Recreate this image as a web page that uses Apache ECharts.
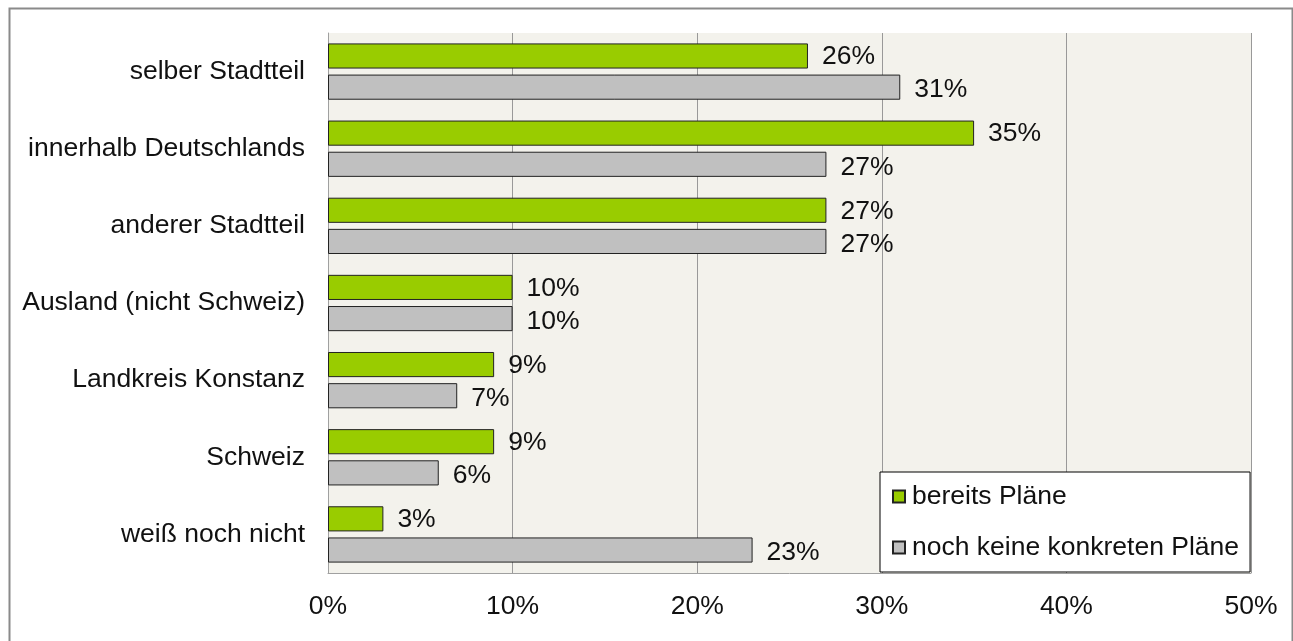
<!DOCTYPE html>
<html>
<head>
<meta charset="utf-8">
<script src="https://cdn.jsdelivr.net/npm/echarts@6/dist/echarts.min.js"></script>
<style>
html,body{margin:0;padding:0;background:#fff;}
#chart{width:1293px;height:641px;}
</style>
</head>
<body>
<div id="chart"></div>
<script>
const categories = ["selber Stadtteil","innerhalb Deutschlands","anderer Stadtteil","Ausland (nicht Schweiz)","Landkreis Konstanz","Schweiz","weiß noch nicht"];
const seriesNames = ["bereits Pläne","noch keine konkreten Pläne"];
const bereitsPlaene = [26,35,27,10,9,9,3];
const keinePlaene = [31,27,27,10,7,6,23];
const xTicks = [0,10,20,30,40,50];

const FONT = "'Liberation Sans', Arial, sans-serif";
const FS = 26.5;
const chart = echarts.init(document.getElementById('chart'));
const labelCfg = (dy) => ({
  show: true, position: 'right', distance: 14, offset:[0,dy],
  formatter: p => p.value + '%', fontSize: FS, fontFamily: FONT, color: '#111'
});
chart.setOption({
  backgroundColor: '#fff',
  animation: false,
  graphic: [{
    type: 'rect', left: 7, top: 6, z: 100, silent: true,
    shape: {width: 1283, height: 640},
    style: {fill: 'none', stroke: '#8a8a8a', lineWidth: 2}
  }],
  grid: {left: 328, right: 42, top: 33, bottom: 68, show: true, backgroundColor: '#F3F2EC', borderWidth: 0},
  legend: {
    orient: 'vertical', left: 880, top: 472, data: seriesNames,
    backgroundColor: '#fff', borderColor: '#000', borderWidth: 1,
    padding: [11, 11, 11, 12], itemGap: 24, itemWidth: 12, itemHeight: 12,
    icon: 'rect',
    textStyle: {fontSize: FS, fontFamily: FONT, color: '#111', padding: [0,0,0,2]},
    z: 10
  },
  xAxis: {
    type: 'value', min: xTicks[0], max: xTicks[xTicks.length-1], interval: 10,
    axisLabel: {formatter: v => v + '%', fontSize: FS, fontFamily: FONT, color: '#111', margin: 20},
    axisLine: {show: true, lineStyle: {color: '#a0a0a0', width: 1}},
    axisTick: {show: false},
    splitLine: {show: true, lineStyle: {color: '#999', width: 1}}
  },
  yAxis: {
    type: 'category', data: categories, inverse: true,
    axisLabel: {fontSize: FS, fontFamily: FONT, color: '#111', margin: 23},
    axisLine: {show: true, lineStyle: {color: '#a0a0a0', width: 1}},
    axisTick: {show: false}
  },
  series: [
    {name: seriesNames[0], type: 'bar', data: bereitsPlaene, barGap: '24%', barCategoryGap: '27%',
     itemStyle: {color: '#99CC00', borderColor: '#222', borderWidth: 1}, label: labelCfg(1)},
    {name: seriesNames[1], type: 'bar', data: keinePlaene,
     itemStyle: {color: '#C0C0C0', borderColor: '#222', borderWidth: 1}, label: labelCfg(3)}
  ]
});
</script>
</body>
</html>
